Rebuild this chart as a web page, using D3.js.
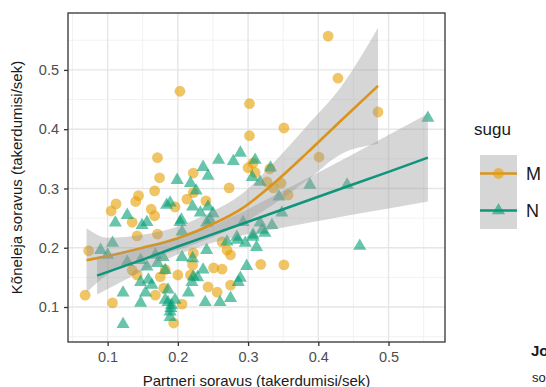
<!DOCTYPE html>
<html>
<head>
<meta charset="utf-8">
<script src="https://cdn.jsdelivr.net/npm/d3@7"></script>
<style>
  body { margin: 0; background: #fff; }
  svg { display: block; font-family: "Liberation Sans", Arial, sans-serif; }
</style>
</head>
<body>
<div id="chart"></div>
<script>
// sugu = M (ringid)
const pointsM = [
  [0.414,0.557],[0.428,0.486],[0.485,0.429],[0.351,0.402],[0.401,0.353],[0.203,0.464],
  [0.302,0.443],[0.302,0.389],[0.171,0.352],[0.174,0.318],[0.167,0.296],[0.144,0.288],
  [0.140,0.278],[0.112,0.274],[0.105,0.262],[0.162,0.265],[0.167,0.254],[0.135,0.243],
  [0.222,0.326],[0.273,0.301],[0.300,0.335],[0.310,0.327],[0.213,0.282],[0.240,0.279],
  [0.196,0.269],[0.073,0.195],[0.068,0.120],[0.142,0.220],[0.171,0.223],[0.107,0.107],
  [0.142,0.154],[0.135,0.162],[0.175,0.151],[0.180,0.132],[0.168,0.120],[0.206,0.105],
  [0.194,0.073],[0.200,0.154],[0.218,0.154],[0.221,0.171],[0.222,0.191],[0.263,0.210],
  [0.270,0.196],[0.275,0.188],[0.251,0.166],[0.263,0.164],[0.243,0.134],[0.256,0.125],
  [0.275,0.137],[0.318,0.172],[0.351,0.171],[0.307,0.343],[0.331,0.333],[0.327,0.311],
  [0.336,0.301],[0.347,0.309],[0.357,0.289],[0.222,0.293],[0.182,0.163]
];
// sugu = N (kolmnurgad)
const pointsN = [
  [0.258,0.348],[0.289,0.360],[0.279,0.346],[0.310,0.348],[0.236,0.336],[0.243,0.321],
  [0.199,0.314],[0.218,0.309],[0.226,0.296],[0.306,0.319],[0.189,0.276],[0.221,0.269],
  [0.243,0.269],[0.250,0.258],[0.205,0.247],[0.246,0.247],[0.332,0.335],[0.317,0.311],
  [0.388,0.306],[0.441,0.306],[0.344,0.286],[0.348,0.259],[0.317,0.242],[0.334,0.238],
  [0.324,0.225],[0.307,0.222],[0.312,0.201],[0.459,0.203],[0.556,0.419],[0.111,0.242],
  [0.128,0.255],[0.149,0.238],[0.156,0.243],[0.107,0.208],[0.090,0.196],[0.100,0.188],
  [0.128,0.176],[0.147,0.179],[0.156,0.168],[0.171,0.174],[0.147,0.142],[0.158,0.146],
  [0.163,0.137],[0.154,0.124],[0.122,0.124],[0.147,0.107],[0.179,0.184],[0.182,0.162],
  [0.186,0.108],[0.191,0.103],[0.189,0.092],[0.189,0.083],[0.122,0.071],[0.203,0.243],
  [0.206,0.227],[0.222,0.151],[0.239,0.108],[0.260,0.108],[0.275,0.115],[0.289,0.149],
  [0.298,0.169],[0.241,0.196],[0.232,0.259],[0.241,0.242],[0.284,0.218],[0.307,0.218],
  [0.320,0.230],[0.293,0.243],[0.206,0.184],[0.221,0.182],[0.236,0.163],[0.228,0.150],
  [0.220,0.142],[0.286,0.142],[0.296,0.208],[0.270,0.210],[0.285,0.213],[0.182,0.112],
  [0.190,0.098],[0.184,0.272],[0.168,0.188],[0.186,0.129],[0.215,0.124],[0.196,0.112]
];

// silumiskõverad (local fit M, lineaarne N) koos usalduspiiridega: [x, fit, alumine, ülemine]
const smoothM = [
  [0.070,0.179,0.125,0.233],[0.100,0.186,0.155,0.217],[0.150,0.200,0.178,0.222],
  [0.200,0.216,0.196,0.236],[0.250,0.240,0.218,0.262],[0.290,0.265,0.240,0.290],
  [0.336,0.308,0.273,0.343],[0.384,0.360,0.314,0.406],[0.431,0.413,0.357,0.469],
  [0.485,0.473,0.375,0.571]
];
const smoothN = [
  [0.085,0.153,0.121,0.185],[0.150,0.180,0.161,0.199],[0.200,0.202,0.189,0.215],
  [0.250,0.223,0.209,0.237],[0.300,0.244,0.223,0.265],[0.350,0.265,0.234,0.296],
  [0.400,0.286,0.245,0.327],[0.450,0.307,0.256,0.358],[0.500,0.328,0.266,0.390],
  [0.556,0.352,0.278,0.426]
];

const xTicks = [0.1, 0.2, 0.3, 0.4, 0.5];
const yTicks = [0.1, 0.2, 0.3, 0.4, 0.5];
const xMinor = [0.05, 0.15, 0.25, 0.35, 0.45, 0.55];
const yMinor = [0.05, 0.15, 0.25, 0.35, 0.45, 0.55];
const groups = ['M', 'N'];

const width = 546, height = 387;
const panel = { left: 68, top: 13, right: 445, bottom: 342 };
const colM = '#E69F00', colN = '#009E73';
const lineColM = '#DB9419', lineColN = '#0E957B';

const svg = d3.select('#chart').append('svg')
  .attr('width', width).attr('height', height);

const x = d3.scaleLinear().domain([0.0436, 0.5804]).range([panel.left, panel.right]);
const y = d3.scaleLinear().domain([0.041, 0.596]).range([panel.bottom, panel.top]);

// grid
const grid = svg.append('g');
grid.selectAll('.vmin').data(xMinor).join('line')
  .attr('x1', d => x(d)).attr('x2', d => x(d))
  .attr('y1', panel.top).attr('y2', panel.bottom)
  .attr('stroke', '#F2F2F2').attr('stroke-width', 1);
grid.selectAll('.hmin').data(yMinor).join('line')
  .attr('y1', d => y(d)).attr('y2', d => y(d))
  .attr('x1', panel.left).attr('x2', panel.right)
  .attr('stroke', '#F2F2F2').attr('stroke-width', 1);
grid.selectAll('.vmaj').data(xTicks).join('line')
  .attr('x1', d => x(d)).attr('x2', d => x(d))
  .attr('y1', panel.top).attr('y2', panel.bottom)
  .attr('stroke', '#E6E6E6').attr('stroke-width', 1.4);
grid.selectAll('.hmaj').data(yTicks).join('line')
  .attr('y1', d => y(d)).attr('y2', d => y(d))
  .attr('x1', panel.left).attr('x2', panel.right)
  .attr('stroke', '#E6E6E6').attr('stroke-width', 1.4);

// points
const pts = svg.append('g');
pts.selectAll('circle').data(pointsM).join('circle')
  .attr('cx', d => x(d[0])).attr('cy', d => y(d[1]))
  .attr('r', 5.4).attr('fill', colM).attr('fill-opacity', 0.6);
const tri = d3.symbol().type(d3.symbolTriangle).size(74);
pts.selectAll('path').data(pointsN).join('path')
  .attr('d', tri)
  .attr('transform', d => `translate(${x(d[0])},${y(d[1])})`)
  .attr('fill', colN).attr('fill-opacity', 0.6);

// smooths
const area = d3.area().x(d => x(d[0])).y0(d => y(d[2])).y1(d => y(d[3]));
const lineM = d3.line().x(d => x(d[0])).y(d => y(d[1])).curve(d3.curveMonotoneX);
const lineN = d3.line().x(d => x(d[0])).y(d => y(d[1]));
const areaM = d3.area().x(d => x(d[0])).y0(d => y(d[2])).y1(d => y(d[3])).curve(d3.curveMonotoneX);

svg.append('path').attr('d', areaM(smoothM)).attr('fill', '#999999').attr('fill-opacity', 0.4);
svg.append('path').attr('d', lineM(smoothM)).attr('fill', 'none').attr('stroke', lineColM).attr('stroke-width', 2.6);
svg.append('path').attr('d', area(smoothN)).attr('fill', '#999999').attr('fill-opacity', 0.4);
svg.append('path').attr('d', lineN(smoothN)).attr('fill', 'none').attr('stroke', lineColN).attr('stroke-width', 2.6);

// panel border
svg.append('rect')
  .attr('x', panel.left).attr('y', panel.top)
  .attr('width', panel.right - panel.left).attr('height', panel.bottom - panel.top)
  .attr('fill', 'none').attr('stroke', '#333333').attr('stroke-width', 1.3);

// axes
const xAxis = svg.append('g').attr('transform', `translate(0,${panel.bottom})`)
  .call(d3.axisBottom(x).tickValues(xTicks).tickFormat(d3.format('.1f')).tickSize(4).tickPadding(6));
const yAxis = svg.append('g').attr('transform', `translate(${panel.left},0)`)
  .call(d3.axisLeft(y).tickValues(yTicks).tickFormat(d3.format('.1f')).tickSize(4).tickPadding(5));
[xAxis, yAxis].forEach(a => {
  a.select('.domain').remove();
  a.selectAll('line').attr('stroke', '#333333').attr('stroke-width', 1.3);
  a.selectAll('text').attr('fill', '#4D4D4D').style('font-size', '14.5px')
    .style('font-family', '"Liberation Sans", Arial, sans-serif');
});

svg.append('text')
  .attr('x', (panel.left + panel.right) / 2).attr('y', 386)
  .attr('text-anchor', 'middle').style('font-size', '15px').attr('fill', '#1a1a1a')
  .text('Partneri soravus (takerdumisi/sek)');
svg.append('text')
  .attr('transform', `translate(22,${(panel.top + panel.bottom) / 2}) rotate(-90)`)
  .attr('text-anchor', 'middle').style('font-size', '15px').attr('fill', '#1a1a1a')
  .text('Kõneleja soravus (takerdumisi/sek)');

// legend
const lg = svg.append('g');
lg.append('text').attr('x', 474).attr('y', 135).style('font-size', '17px').attr('fill', '#1a1a1a').text('sugu');
const keyH = 37;
groups.forEach((g, i) => {
  const top = 155 + i * keyH;
  const c = g === 'M' ? colM : colN;
  const lc = g === 'M' ? lineColM : lineColN;
  lg.append('rect').attr('x', 480).attr('y', top).attr('width', 37).attr('height', keyH)
    .attr('fill', '#999999').attr('fill-opacity', 0.4);
  lg.append('line').attr('x1', 480).attr('x2', 517).attr('y1', top + keyH / 2).attr('y2', top + keyH / 2)
    .attr('stroke', lc).attr('stroke-width', 2.6);
  if (g === 'M') {
    lg.append('circle').attr('cx', 498.5).attr('cy', top + keyH / 2).attr('r', 5.4)
      .attr('fill', c).attr('fill-opacity', 0.6);
  } else {
    lg.append('path').attr('d', tri).attr('transform', `translate(498.5,${top + keyH / 2})`)
      .attr('fill', c).attr('fill-opacity', 0.6);
  }
  lg.append('text').attr('x', 526).attr('y', top + keyH / 2 + 6.5)
    .style('font-size', '18px').attr('fill', '#1a1a1a').text(g);
});

// kõrvalveeru tekst (lehe servas)
svg.append('text').attr('x', 531).attr('y', 356).style('font-size', '15px')
  .style('font-weight', 'bold').attr('fill', '#1a1a1a').text('Jo');
svg.append('text').attr('x', 532).attr('y', 382).style('font-size', '13px')
  .attr('fill', '#1a1a1a').text('so');
</script>
</body>
</html>
